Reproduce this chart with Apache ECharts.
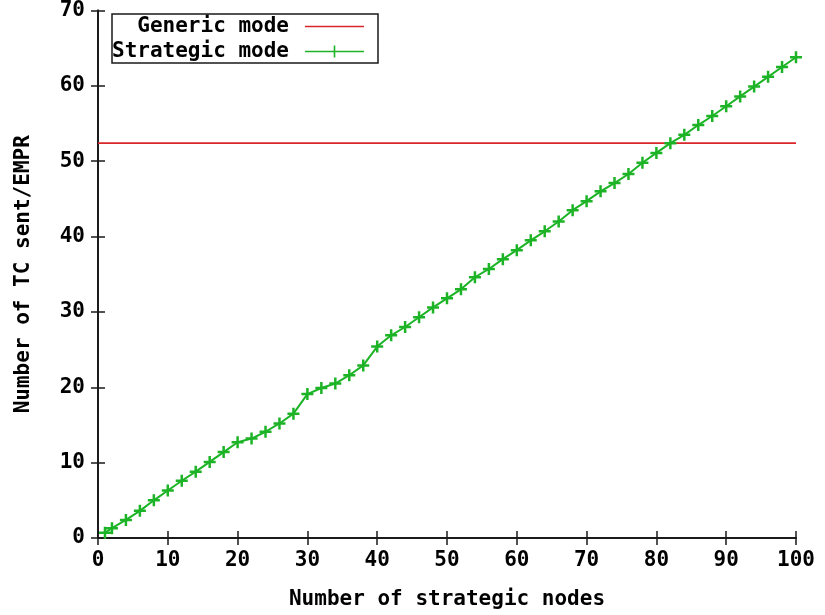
<!DOCTYPE html>
<html>
<head>
<meta charset="utf-8">
<script src="https://cdn.jsdelivr.net/npm/echarts@6/dist/echarts.min.js"></script>
<style>html,body{margin:0;padding:0;background:#fff}#c{width:825px;height:615px}</style>
</head>
<body>
<div id="c"></div>
<script>
const strategicX = [1, 2, 4, 6, 8, 10, 12, 14, 16, 18, 20, 22, 24, 26, 28, 30, 32, 34, 36, 38, 40,
  42, 44, 46, 48, 50, 52, 54, 56, 58, 60, 62, 64, 66, 68, 70, 72, 74, 76, 78, 80,
  82, 84, 86, 88, 90, 92, 94, 96, 98, 100];
const strategicY = [0.7, 1.3, 2.4, 3.6, 5.0, 6.3, 7.6, 8.8, 10.1, 11.4, 12.7, 13.2, 14.1, 15.2, 16.5, 19.1, 19.9, 20.5, 21.6, 22.9, 25.4,
  26.9, 28.0, 29.3, 30.6, 31.8, 33.0, 34.6, 35.7, 37.0, 38.2, 39.5, 40.7, 42.0, 43.5, 44.7, 46.0, 47.1, 48.3, 49.8, 51.1,
  52.4, 53.5, 54.8, 56.0, 57.3, 58.6, 59.9, 61.2, 62.5, 63.8];
const genericX = [0, 100];
const genericY = [52.4, 52.4];
const seriesNames = ['Generic mode', 'Strategic mode'];
const xTitle = 'Number of strategic nodes';
const yTitle = 'Number of TC sent/EMPR';

const FONT = 'DejaVu Sans Mono';
const FS = 21;
const frame = { show: true, lineStyle: { color: '#1a1a1a', width: 1.8 } };
const ticks = { show: true, inside: true, length: 7, lineStyle: { color: '#1a1a1a', width: 1.5 } };
const plusPath = 'path://M0,4.75L12,4.75L12,7.25L0,7.25Z M4.75,0L7.25,0L7.25,12L4.75,12Z';

const chart = echarts.init(document.getElementById('c'), null, { renderer: 'canvas' });
chart.setOption({
  animation: false,
  backgroundColor: '#fff',
  textStyle: { fontFamily: FONT, fontWeight: 'bold', color: '#000' },
  grid: { left: 98, right: 29, top: 9, bottom: 77, containLabel: false },
  legend: {
    orient: 'vertical',
    left: 112, top: 14,
    align: 'right',
    padding: [2, 14, 1, 0],
    itemGap: 4,
    itemWidth: 59, itemHeight: 14,
    borderColor: '#1a1a1a', borderWidth: 1.5,
    formatter: function (n) { return n.padStart(14, ' '); },
    textStyle: { fontFamily: FONT, fontWeight: 'bold', fontSize: FS, color: '#000', lineHeight: 21, padding: [0, 11, 0, 0] },
    data: [
      { name: seriesNames[0], icon: 'path://M0,0L0.01,0L0,0.01Z M0,6.2L59,6.2L59,7.8L0,7.8Z M0,14L0.01,14L0,13.99Z' },
      { name: seriesNames[1], icon: 'path://M0,0L0.01,0L0,0.01Z M0,6.2L59,6.2L59,7.8L0,7.8Z M28.7,1L30.3,1L30.3,13L28.7,13Z M0,14L0.01,14L0,13.99Z' }
    ]
  },
  xAxis: [{
    type: 'value', min: 0, max: 100, interval: 10,
    axisLine: frame, axisTick: ticks, splitLine: { show: false },
    axisLabel: { fontFamily: FONT, fontWeight: 'bold', fontSize: FS, color: '#000', margin: 12 },
    name: xTitle, nameLocation: 'middle', nameGap: 51,
    nameTextStyle: { fontFamily: FONT, fontWeight: 'bold', fontSize: FS, color: '#000' }
  }, {
    type: 'value', min: 0, max: 100, interval: 10, position: 'top',
    axisLine: frame, axisTick: ticks, axisLabel: { show: false }, splitLine: { show: false }
  }],
  yAxis: [{
    type: 'value', min: 0, max: 70, interval: 10,
    axisLine: frame, axisTick: ticks, splitLine: { show: false },
    axisLabel: { fontFamily: FONT, fontWeight: 'bold', fontSize: FS, color: '#000', margin: 13 },
    name: yTitle, nameLocation: 'middle', nameGap: 64, nameRotate: 90,
    nameTextStyle: { fontFamily: FONT, fontWeight: 'bold', fontSize: FS, color: '#000' }
  }, {
    type: 'value', min: 0, max: 70, interval: 10, position: 'right',
    axisLine: frame, axisTick: ticks, axisLabel: { show: false }, splitLine: { show: false }
  }],
  series: [{
    name: seriesNames[0],
    type: 'line',
    data: genericX.map((x, i) => [x, genericY[i]]),
    showSymbol: false,
    color: '#d8262a',
    lineStyle: { color: '#d8262a', width: 1.6 },
    z: 2
  }, {
    name: seriesNames[1],
    type: 'line',
    data: strategicX.map((x, i) => [x, strategicY[i]]),
    symbol: plusPath,
    symbolSize: 12,
    showAllSymbol: true,
    color: '#1cb326',
    itemStyle: { color: '#1cb326', borderWidth: 0 },
    lineStyle: { color: '#1cb326', width: 2 },
    z: 3
  }]
});
</script>
</body>
</html>
